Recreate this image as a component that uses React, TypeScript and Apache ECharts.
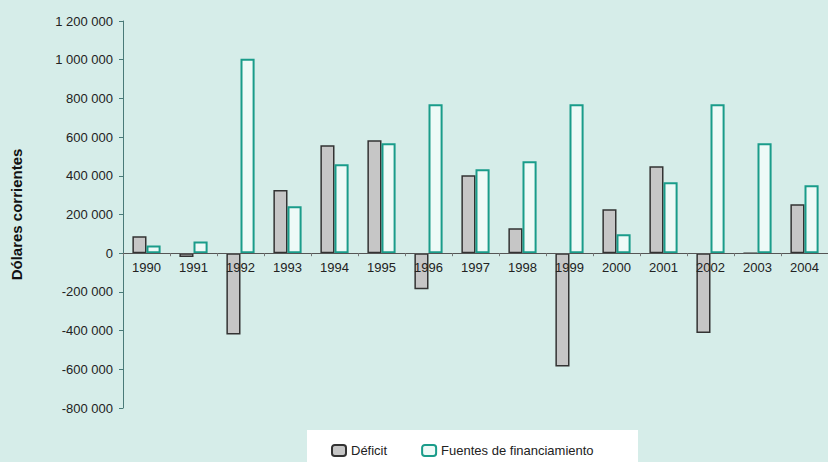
import React, { useEffect, useRef } from "react";
import * as echarts from "echarts";

const years = ["1990", "1991", "1992", "1993", "1994", "1995", "1996", "1997", "1998", "1999", "2000", "2001", "2002", "2003", "2004"];
const deficit = [88000, -20000, -420000, 326000, 558000, 584000, -186000, 403000, 129000, -585000, 227000, 450000, -413000, 0, 253000];
const fuentes = [40000, 60000, 1005000, 243000, 460000, 568000, 770000, 434000, 475000, 770000, 98000, 367000, 770000, 568000, 351000];
const seriesNames = ["Déficit", "Fuentes de financiamiento"];
const yAxisTitle = "Dólares corrientes";
const yMin = -800000;
const yMax = 1200000;

const FONT = "Liberation Sans, Arial, sans-serif";

function fmt(v: number): string {
  const s = Math.abs(v).toString().replace(/\B(?=(\d{3})+(?!\d))/g, " ");
  return (v < 0 ? "-" : "") + s;
}

export default function App() {
  const ref = useRef<HTMLDivElement>(null);
  useEffect(() => {
    if (!ref.current) return;
    const chart = echarts.init(ref.current, undefined, { renderer: "svg" });
    const gridTop = 21;
    const gridBottom = 54;
    const plotH = 462 - gridTop - gridBottom;
    const zeroOffset = -plotH * (0 - yMin) / (yMax - yMin);
    chart.setOption({
      animation: false,
      backgroundColor: "#d6ede9",
      textStyle: { fontFamily: FONT },
      graphic: [
        {
          type: "rect",
          shape: { x: 307, y: 430, width: 331, height: 40 },
          style: { fill: "#ffffff" },
          z: -1,
        },
      ],
      legend: {
        left: 326,
        top: 439,
        itemWidth: 14,
        itemHeight: 11,
        itemGap: 34,
        textStyle: { fontFamily: FONT, fontSize: 13, color: "#222" },
        data: seriesNames,
      },
      grid: { left: 123, right: 0, top: gridTop, bottom: gridBottom, containLabel: false },
      xAxis: {
        type: "category",
        data: years,
        offset: zeroOffset,
        axisLine: { onZero: false, lineStyle: { color: "#555", width: 1 } },
        axisTick: { show: true, length: 3, lineStyle: { color: "#777" } },
        axisLabel: { color: "#222", fontSize: 13, margin: 8, fontFamily: FONT },
        z: 5,
      },
      yAxis: {
        type: "value",
        min: yMin,
        max: yMax,
        interval: 200000,
        name: yAxisTitle,
        nameLocation: "middle",
        nameGap: 99,
        nameTextStyle: { fontFamily: FONT, fontSize: 15, fontWeight: "bold", color: "#111" },
        axisLine: { show: true, lineStyle: { color: "#4a7a78", width: 1 } },
        axisTick: { show: true, length: 4, lineStyle: { color: "#4a7a78" } },
        axisLabel: { color: "#222", fontSize: 13, margin: 10, formatter: (v: number) => fmt(v), fontFamily: FONT },
        splitLine: { show: false },
      },
      series: [
        {
          name: seriesNames[0],
          type: "bar",
          data: deficit,
          barGap: "0%",
          barCategoryGap: "40%",
          itemStyle: { color: "#c6c6c6", borderColor: "#333333", borderWidth: 1.5 },
        },
        {
          name: seriesNames[1],
          type: "bar",
          data: fuentes,
          itemStyle: { color: "#eefaf7", borderColor: "#1a9c8a", borderWidth: 2 },
        },
      ],
    });
    return () => chart.dispose();
  }, []);
  return <div ref={ref} style={{ width: 828, height: 462, position: "absolute", left: 0, top: 0 }} />;
}
